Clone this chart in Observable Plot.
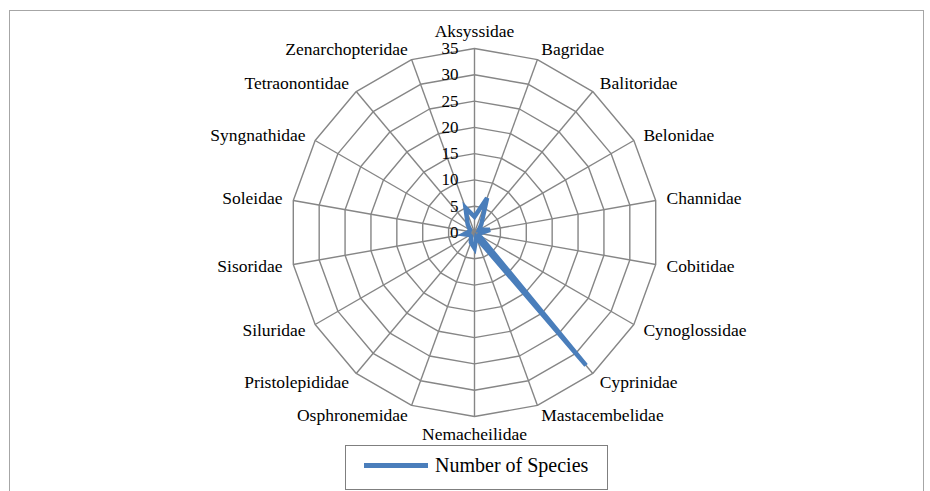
<!DOCTYPE html>
<html>
<head>
<meta charset="utf-8">
<script src="https://cdn.jsdelivr.net/npm/d3@7"></script>
<script src="https://cdn.jsdelivr.net/npm/@observablehq/plot@0.6"></script>
<style>
  html, body { margin: 0; padding: 0; background: #fff; }
  body { width: 930px; height: 491px; position: relative; overflow: hidden; font-family: "Liberation Serif", "Times New Roman", serif; }
  #frame { position: absolute; left: 9px; top: 10px; width: 915px; height: 500px; border: 1px solid #a6a6a6; box-sizing: border-box; }
  #chart { position: absolute; left: 0; top: 0; }
  #legend { position: absolute; left: 345px; top: 445px; width: 263px; height: 45px; border: 1px solid #7f7f7f; box-sizing: border-box; background: #fff; }
  #legend .sw { position: absolute; left: 18px; top: 17px; width: 64px; height: 5px; background: #4a7ebb; }
  #legend .lb { position: absolute; left: 89px; top: 7px; font-size: 20px; line-height: 24px; color: #000; white-space: nowrap; }
</style>
</head>
<body>
<div id="frame"></div>
<div id="chart"></div>
<div id="legend"><div class="sw"></div><div class="lb">Number of Species</div></div>
<script>
const categories = ["Aksyssidae","Bagridae","Balitoridae","Belonidae","Channidae","Cobitidae","Cynoglossidae","Cyprinidae","Mastacembelidae","Nemacheilidae","Osphronemidae","Pristolepididae","Siluridae","Sisoridae","Soleidae","Syngnathidae","Tetraonontidae","Zenarchopteridae"];
const values = [3, 7, 2, 1, 3, 1, 1, 33, 1, 3, 2, 1, 1, 2, 1, 1, 2, 5];
const tickValues = [0, 5, 10, 15, 20, 25, 30, 35];
const seriesName = "Number of Species";

const n = categories.length;
const maxV = 35;
const labelR = 37.1;
const ang = i => i * 2 * Math.PI / n;

const rings = [];
for (const t of tickValues.filter(t => t > 0)) {
  categories.forEach((c, i) => rings.push({ring: t, x: t * Math.sin(ang(i)), y: t * Math.cos(ang(i))}));
}
const spokes = categories.map((c, i) => ({x1: 0, y1: 0, x2: maxV * Math.sin(ang(i)), y2: maxV * Math.cos(ang(i))}));
const series = categories.map((c, i) => ({cat: c, v: values[i], x: values[i] * Math.sin(ang(i)), y: values[i] * Math.cos(ang(i))}));
const labels = categories.map((c, i) => ({cat: c, s: Math.sin(ang(i)), c: Math.cos(ang(i)), x: labelR * Math.sin(ang(i)), y: labelR * Math.cos(ang(i))}));
const ticks = tickValues.map(t => ({t, x: 0, y: t}));

const font = {fontFamily: "Liberation Serif", fill: "#000"};

const chart = Plot.plot({
  width: 930,
  height: 445,
  margin: 0,
  x: {domain: [-maxV, maxV], range: [474 - 184, 474 + 184], axis: null},
  y: {domain: [-maxV, maxV], range: [232 + 184, 232 - 184], axis: null},
  style: {background: "transparent", overflow: "visible"},
  marks: [
    Plot.link(spokes, {x1: "x1", y1: "y1", x2: "x2", y2: "y2", stroke: "#868686", strokeWidth: 1.4}),
    Plot.line(rings, {x: "x", y: "y", z: "ring", curve: "linear-closed", stroke: "#868686", strokeWidth: 1.4}),
    Plot.line(series, {x: "x", y: "y", curve: "linear-closed", stroke: "#4a7ebb", strokeWidth: 4.5, strokeLinejoin: "miter", strokeMiterlimit: 4}),
    Plot.text(ticks, {x: "x", y: "y", text: d => String(d.t), textAnchor: "end", dx: -16, fontSize: 17, ...font}),
    Plot.text(labels.filter(d => d.s > 0.1), {x: "x", y: "y", text: "cat", textAnchor: "start", fontSize: 17.5, ...font}),
    Plot.text(labels.filter(d => d.s < -0.1), {x: "x", y: "y", text: "cat", textAnchor: "end", fontSize: 17.5, ...font}),
    Plot.text(labels.filter(d => Math.abs(d.s) <= 0.1 && d.c > 0), {x: "x", y: "y", text: "cat", textAnchor: "middle", lineAnchor: "bottom", fontSize: 17.5, ...font}),
    Plot.text(labels.filter(d => Math.abs(d.s) <= 0.1 && d.c < 0), {x: "x", y: "y", text: "cat", textAnchor: "middle", lineAnchor: "top", fontSize: 17.5, ...font})
  ]
});
document.getElementById("chart").appendChild(chart);
</script>
</body>
</html>
